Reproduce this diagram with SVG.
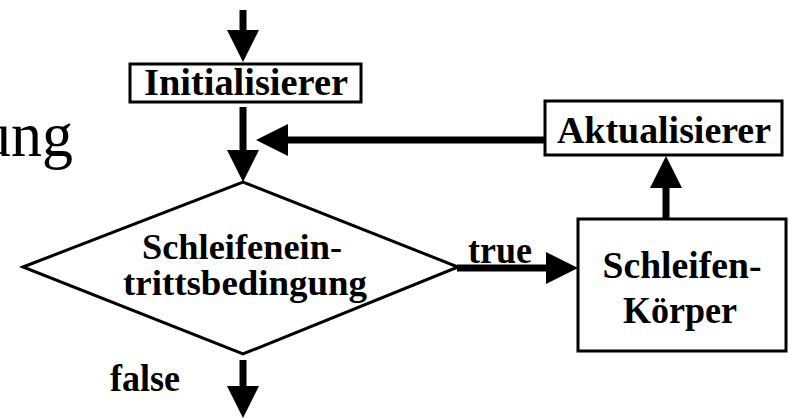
<svg xmlns="http://www.w3.org/2000/svg" width="789" height="418" viewBox="0 0 789 418">
  <style>
    .box { fill: #fff; stroke: #000; stroke-width: 3; }
    .lbl { font-family: "Liberation Serif", "Times New Roman", serif; font-weight: bold; font-size: 37px; fill: #000; text-anchor: middle; }
    .lbl2 { font-size: 35px; }
    .big { font-family: "Liberation Serif", "Times New Roman", serif; font-size: 64px; fill: #000; }
    .wire { fill: none; stroke: #000; stroke-width: 7; }
  </style>
  <defs>
    <marker id="head" viewBox="0 0 32 32" markerWidth="32" markerHeight="32" markerUnits="userSpaceOnUse" refX="6" refY="16" orient="auto">
      <path d="M0,0 L32,16 L0,32 Z" fill="#000"/>
    </marker>
  </defs>
  <rect width="789" height="418" fill="#fff"/>

  <!-- tail of a large heading word running in from the left edge -->
  <text class="big" x="-20" y="156" textLength="93" lengthAdjust="spacingAndGlyphs">ung</text>

  <g id="connectors">
    <line class="wire" x1="243" y1="10" x2="243" y2="36" marker-end="url(#head)"/>
    <line class="wire" x1="243" y1="107" x2="243" y2="156" marker-end="url(#head)"/>
    <line class="wire" x1="545" y1="140" x2="282" y2="140" marker-end="url(#head)"/>
    <line class="wire" x1="666" y1="218" x2="666" y2="182" marker-end="url(#head)"/>
    <line class="wire" x1="457" y1="268" x2="552" y2="268" marker-end="url(#head)"/>
    <line class="wire" x1="243" y1="360" x2="243" y2="392" marker-end="url(#head)"/>
    <text class="lbl" x="500" y="263" textLength="64" lengthAdjust="spacingAndGlyphs">true</text>
    <text class="lbl" x="145" y="391" textLength="70" lengthAdjust="spacingAndGlyphs">false</text>
  </g>

  <g id="init">
    <rect class="box" x="130" y="64" width="231" height="38"/>
    <text class="lbl" x="246" y="95" textLength="204" lengthAdjust="spacingAndGlyphs">Initialisierer</text>
  </g>

  <g id="cond">
    <polygon class="box" points="23,267 243,182 458,267 243,354"/>
    <text class="lbl lbl2" x="242" y="259" textLength="200" lengthAdjust="spacingAndGlyphs">Schleifenein-</text>
    <text class="lbl lbl2" x="245" y="295" textLength="244" lengthAdjust="spacingAndGlyphs">trittsbedingung</text>
  </g>

  <g id="update">
    <rect class="box" x="545" y="101" width="237" height="54"/>
    <text class="lbl" x="664" y="143" textLength="214" lengthAdjust="spacingAndGlyphs">Aktualisierer</text>
  </g>

  <g id="body">
    <rect class="box" x="578" y="219" width="208" height="132"/>
    <text class="lbl" x="682" y="278" textLength="159" lengthAdjust="spacingAndGlyphs">Schleifen-</text>
    <text class="lbl" x="680" y="323" textLength="114" lengthAdjust="spacingAndGlyphs">Körper</text>
  </g>
</svg>
